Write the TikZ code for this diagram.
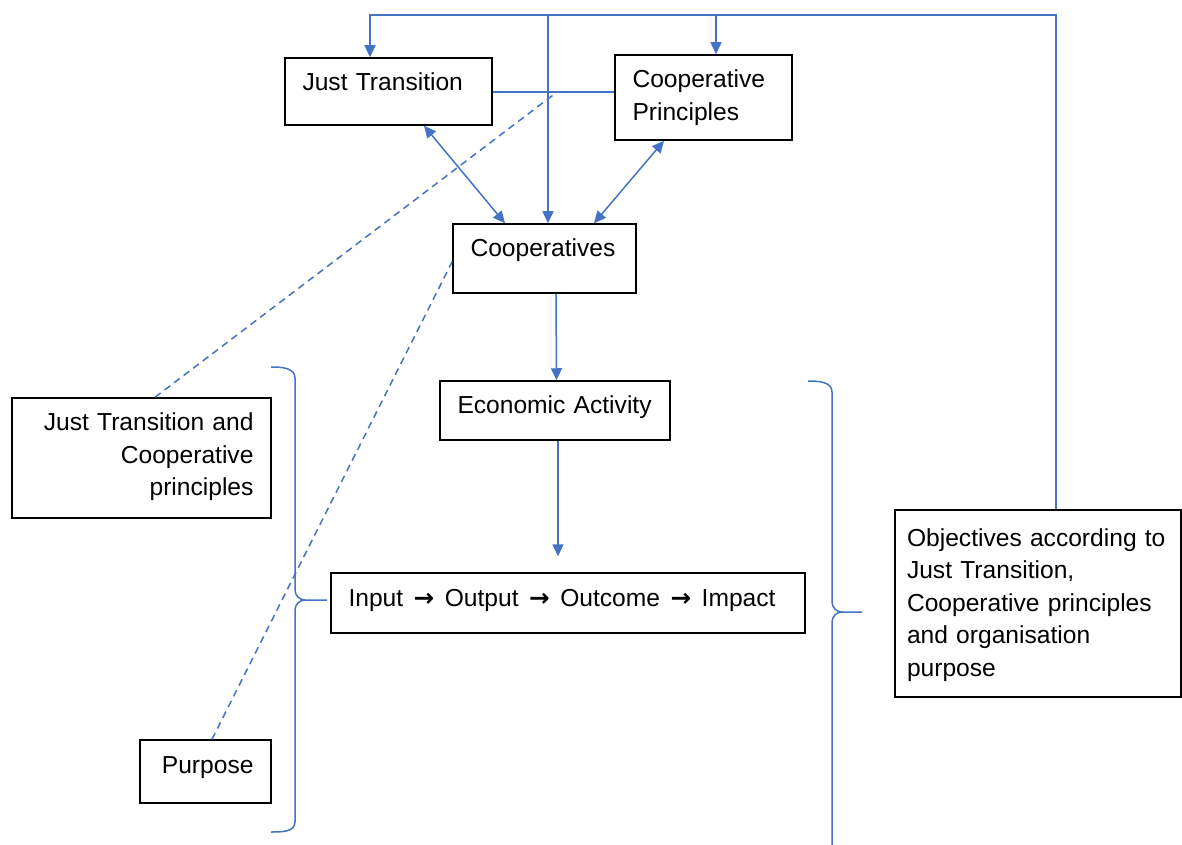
\documentclass[tikz,border=0pt]{standalone}
\usepackage{fontspec}
\setmainfont{Liberation Sans}
\newfontfamily\arrowfont{DejaVu Sans}
\usetikzlibrary{arrows.meta}
\definecolor{wordblue}{HTML}{4472C4}
\newcommand{\boxfont}{\fontsize{24.6}{32.5}\selectfont}
\newcommand{\nextstep}{\hspace{2.3pt}{\arrowfont\bfseries →}\hspace{2.3pt}}

\begin{document}
\begin{tikzpicture}[x=1pt, y=1pt, node distance={100pt},
    box/.style={draw, line width=1.5pt, inner xsep=17.5pt, inner ysep=0pt, text height=33pt, font=\boxfont},
    blueline/.style={draw=wordblue, line width=1.5pt},
    arr/.style={blueline, -{Triangle[length=12pt,width=11pt]}},
    twoway/.style={blueline, {Triangle[length=12pt,width=11pt]}-{Triangle[length=12pt,width=11pt]}},
    dashlink/.style={blueline, dash pattern=on 7pt off 5pt}]
    \useasboundingbox (0,0) rectangle (1182,844);

    \node[box, text width=172pt, text depth=34pt, align=left] (1) at (388.5,752.5) {Just Transition};
    \node[box, text width=142pt, text depth=52pt, align=left] (2) [right of=1, xshift=215pt, yshift=-6pt] {Cooperative\\Principles};

    \node[box, text width=148pt, text depth=36pt, align=left] (3) [below of=1, xshift=156pt, yshift=-67pt] {Cooperatives};
    \node[box, text width=195pt, text depth=26pt, align=left] (4) [below of=3, xshift=10.5pt, yshift=-52pt] {Economic~Activity};
    \node[box, text width=439pt, text depth=27pt, align=left] (5) [below of=4, xshift=13pt, yshift=-92.5pt] {Input \nextstep{} Output \nextstep{} Outcome \nextstep{} Impact};

    \node[box, text width=224pt, text depth=87pt, align=right] (6) [left of=4, xshift=-313.5pt, yshift=-47.5pt] {Just Transition and\\Cooperative\\principles};
    \node[box, text width=96pt, text depth=30pt, align=right] (7) [below of=6, xshift=64pt, yshift=-213.5pt] {Purpose};

    \node[box, inner xsep=12pt, text width=262pt, text height=36pt, text depth=151pt, align=left] (8) [right of=5, xshift=370pt, yshift=-0.5pt] {Objectives according to\\Just Transition,\\Cooperative principles\\and organisation\\purpose};

    \coordinate (top) at (0,829);
    \coordinate (9) at ([xshift=-10pt,yshift=16pt]5.north);

    % feedback from the objectives
    \draw[arr] ([xshift=18pt]8.north) |- ([xshift=-18.5pt]1.north |- top) -- ([xshift=-18.5pt]1.north);
    \draw[arr] ([xshift=12.5pt]2.north |- top) -- ([xshift=12.5pt]2.north);
    \draw[arr] ([xshift=3.5pt]3.north |- top) -- ([xshift=3.5pt]3.north);

    \draw[blueline] ([yshift=-0.5pt]1.east) -- ([yshift=-0.5pt]1.east -| 2.west);
    \draw[twoway] ([xshift=35.5pt]1.south) -- ([xshift=-39.5pt]3.north);
    \draw[twoway] ([xshift=-39.5pt]2.south) -- ([xshift=49.5pt]3.north);
    \draw[arr] ([xshift=11.5pt]3.south) -- ([xshift=1.5pt]4.north);
    \draw[arr] ([xshift=3pt]4.south) -- (9);

    \draw[dashlink] ([xshift=13.5pt]6.north) -- ([xshift=61pt,yshift=-3pt]1.east);
    \draw[dashlink] ([xshift=6.5pt]7.north) -- ([yshift=-3pt]3.west);

    % braces
    \draw[blueline] (271,477) to[out=0,in=90] (295,466) -- (295,254) to[out=-90,in=180] (305,244) -- (327,244)
        (305,244) to[out=180,in=90] (295,234) -- (295,22) to[out=-90,in=0] (271,12);
    \draw[blueline] (808,463) to[out=0,in=90] (832,452) -- (832,242) to[out=-90,in=180] (842,232) -- (862,232)
        (842,232) to[out=180,in=90] (832,222) -- (832,-5);
\end{tikzpicture}
\end{document}
